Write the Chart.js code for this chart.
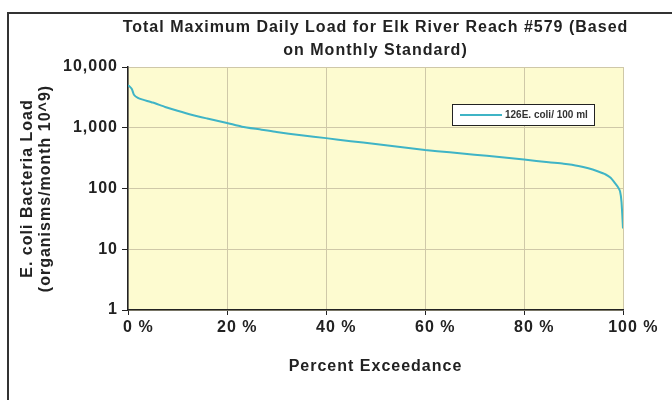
<!DOCTYPE html>
<html lang="en">
<head>
    <meta charset="UTF-8">
    <script src="https://cdn.jsdelivr.net/npm/chart.js@4.4.0/dist/chart.umd.min.js"></script>
    <style>
        body {
            margin: 0;
            background: #fff;
        }

        .frame {
            position: absolute;
            left: 7px;
            top: 12px;
            width: 720px;
            height: 420px;
            border-left: 2px solid #333;
            border-top: 2px solid #333;
        }

        .chart-box {
            position: absolute;
            left: 0;
            top: 0;
            width: 672px;
            height: 400px;
        }
    </style>
    <title>Elk River Reach #579 TMDL</title>
</head>
<body>
    <div class="frame"></div>
    <div class="chart-box">
        <canvas id="tmdlChart" width="672" height="400"></canvas>
    </div>

    <script>
        // values
        const exceedance = [0, 0.3, 0.8, 1.2, 2, 3, 5, 7.5, 10, 13, 16, 20, 23, 27, 30, 35, 40, 45, 50, 55,
            60, 65, 70, 75, 80, 85, 88, 91, 93, 95, 96.5, 97.5, 98.3, 99, 99.4, 99.7, 100];
        const loads = [5000, 4800, 4300, 3500, 3100, 2900, 2600, 2200, 1900, 1620, 1420, 1200, 1040, 930, 850, 750, 675, 600, 540, 480,
            430, 395, 360, 330, 300, 270, 255, 235, 215, 190, 170, 150, 125, 105, 90, 60, 22];
        const seriesLabel = '126E. coli/ 100 ml';
        const yTicks = [1, 10, 100, 1000, 10000];
        const xTicks = [0, 20, 40, 60, 80, 100];
        const titleLines = ['Total Maximum Daily Load for Elk River Reach #579 (Based', 'on Monthly Standard)'];

        const fontFamily = '"Liberation Sans", Arial, sans-serif';
        const lineColor = '#3fb4c6';
        const textColor = '#222';

        // the scanned labels are wide, so space the letters a bit
        const wideText = {
            id: 'wideText',
            beforeLayout(chart) {
                chart.ctx.letterSpacing = '1px';
            },
            beforeDraw(chart) {
                const { ctx, chartArea } = chart;
                ctx.letterSpacing = '1px';
                ctx.save();
                ctx.fillStyle = '#fdfbd0';
                ctx.fillRect(chartArea.left, chartArea.top, chartArea.width, chartArea.height);
                ctx.restore();
            }
        };

        // title centred over the plot area
        const plotTitle = {
            id: 'plotTitle',
            afterDraw(chart) {
                const { ctx, chartArea } = chart;
                const cx = (chartArea.left + chartArea.right) / 2;
                ctx.save();
                ctx.letterSpacing = '1px';
                ctx.fillStyle = textColor;
                ctx.font = 'bold 16px ' + fontFamily;
                ctx.textAlign = 'center';
                ctx.textBaseline = 'alphabetic';
                ctx.fillText(titleLines[0], cx, 32);
                ctx.fillText(titleLines[1], cx, 55);
                ctx.restore();
            }
        };

        // x labels: number centred on the tick, " %" trailing after it
        const percentLabels = {
            id: 'percentLabels',
            afterDraw(chart) {
                const { ctx } = chart;
                const xs = chart.scales.x;
                const y = xs.top + 18;
                ctx.save();
                ctx.letterSpacing = '1px';
                ctx.fillStyle = textColor;
                ctx.font = 'bold 16px ' + fontFamily;
                ctx.textAlign = 'left';
                ctx.textBaseline = 'middle';
                xTicks.forEach((v) => {
                    const px = xs.getPixelForValue(v);
                    const num = String(v);
                    const w = ctx.measureText(num).width;
                    ctx.fillText(num, px - w / 2, y);
                    ctx.fillText(' %', px + w / 2, y);
                });
                ctx.restore();
            }
        };

        // legend box sits inside the plot, top right
        const insideLegend = {
            id: 'insideLegend',
            afterDraw(chart) {
                const { ctx } = chart;
                const x = 452, y = 104, w = 142, h = 21;
                ctx.save();
                ctx.letterSpacing = '0px';
                ctx.fillStyle = '#fff';
                ctx.fillRect(x, y, w, h);
                ctx.strokeStyle = '#222';
                ctx.lineWidth = 1;
                ctx.strokeRect(x + 0.5, y + 0.5, w, h);
                ctx.strokeStyle = lineColor;
                ctx.lineWidth = 2;
                ctx.beginPath();
                ctx.moveTo(x + 8, y + h / 2 + 0.5);
                ctx.lineTo(x + 50, y + h / 2 + 0.5);
                ctx.stroke();
                ctx.fillStyle = '#333';
                ctx.font = 'bold 10px ' + fontFamily;
                ctx.textBaseline = 'middle';
                ctx.fillText(chart.data.datasets[0].label, x + 53, y + h / 2 + 1);
                ctx.restore();
            }
        };

        const ctx = document.getElementById('tmdlChart').getContext('2d');
        const chart = new Chart(ctx, {
            type: 'line',
            data: {
                datasets: [{
                    label: seriesLabel,
                    data: exceedance.map((x, i) => ({ x: x, y: loads[i] })),
                    borderColor: lineColor,
                    borderWidth: 2,
                    pointRadius: 0,
                    fill: false,
                    tension: 0.2
                }]
            },
            options: {
                responsive: false,
                animation: false,
                layout: {
                    padding: { left: 12, top: 67, right: 49, bottom: 20 }
                },
                plugins: {
                    legend: { display: false },
                    tooltip: { enabled: false },
                    title: { display: false }
                },
                scales: {
                    x: {
                        type: 'linear',
                        min: 0,
                        max: 100,
                        afterBuildTicks: (scale) => { scale.ticks = xTicks.map(v => ({ value: v })); },
                        afterFit: (scale) => { scale.height = 70; },
                        ticks: { display: false },
                        grid: {
                            color: '#cfc8a8',
                            tickColor: '#222',
                            tickLength: 5
                        },
                        border: { color: '#222', width: 1.5 },
                        title: {
                            display: true,
                            text: 'Percent Exceedance',
                            color: textColor,
                            font: { family: fontFamily, size: 16, weight: 'bold' },
                            padding: { top: 0, bottom: 4 }
                        }
                    },
                    y: {
                        type: 'logarithmic',
                        min: 1,
                        max: 10000,
                        afterBuildTicks: (scale) => { scale.ticks = yTicks.map(v => ({ value: v })); },
                        afterFit: (scale) => { scale.width = 116; },
                        ticks: {
                            color: textColor,
                            padding: 4,
                            font: { family: fontFamily, size: 16, weight: 'bold' },
                            callback: (v) => v.toLocaleString('en-US')
                        },
                        grid: {
                            color: '#cfc8a8',
                            tickColor: '#222',
                            tickLength: 6
                        },
                        border: { color: '#222', width: 1.5 },
                        title: {
                            display: true,
                            text: ['E. coli Bacteria Load', '(organisms/month 10^9)'],
                            color: textColor,
                            font: { family: fontFamily, size: 16, weight: 'bold', lineHeight: 1.1 },
                            padding: { top: 7, bottom: 0 }
                        }
                    }
                }
            },
            plugins: [wideText, plotTitle, percentLabels, insideLegend]
        });
    </script>
</body>
</html>
